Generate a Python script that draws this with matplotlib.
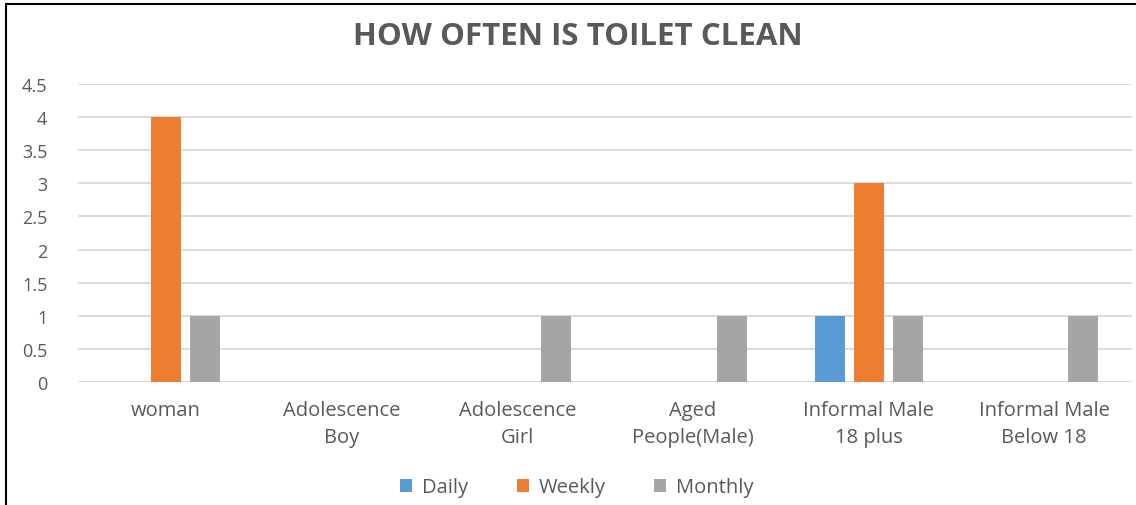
import matplotlib.pyplot as plt
import numpy as np
from matplotlib.lines import Line2D

categories = ['woman', 'Adolescence\nBoy', 'Adolescence\nGirl', 'Aged\nPeople(Male)',
              'Informal Male\n18 plus', 'Informal Male\nBelow 18']
daily = [0, 0, 0, 0, 1, 0]
weekly = [4, 0, 0, 0, 3, 0]
monthly = [1, 0, 1, 1, 1, 1]
yticks = [0, 0.5, 1, 1.5, 2, 2.5, 3, 3.5, 4, 4.5]

plt.rcParams['font.family'] = ['Open Sans', 'DejaVu Sans']
txt = '#595959'

fig = plt.figure(figsize=(11.36, 5.06), dpi=100)
ax = fig.add_axes([0.0687, 0.243, 0.9278, 0.589])

x = np.arange(len(categories))
w = 0.171
off = 0.222
ax.bar(x - off, daily, w, color='#5B9BD5', label='Daily')
ax.bar(x, weekly, w, color='#ED7D31', label='Weekly')
ax.bar(x + off, monthly, w, color='#A5A5A5', label='Monthly')

ax.set_xlim(-0.5, len(categories) - 0.5)
ax.set_ylim(0, 4.5)
ax.set_yticks(yticks)
ax.set_yticklabels([f'{t:g}' for t in yticks])
ax.set_xticks(x)
ax.set_xticklabels(categories, linespacing=1.45)
ax.grid(axis='y', color='#d9d9d9', linewidth=1.3)
ax.set_axisbelow(True)
for s in ax.spines.values():
    s.set_visible(False)
ax.tick_params(length=0, colors=txt)
ax.tick_params(axis='x', pad=13, labelsize=14.5)
ax.tick_params(axis='y', pad=22, labelsize=13)

fig.text(0.509, 0.926, 'HOW OFTEN IS TOILET CLEAN', ha='center', va='center',
         fontsize=22.5, fontweight='bold', color=txt)

fig.legend(loc='center', bbox_to_anchor=(0.508, 0.035), ncol=3, frameon=False,
           fontsize=14.5, labelcolor=txt, handlelength=0.6, handleheight=0.6,
           columnspacing=2.4, handletextpad=0.5)

fig.add_artist(Line2D([6/1136, 1], [1 - 5/506, 1 - 5/506], color='black', lw=1.5,
                      transform=fig.transFigure))
fig.add_artist(Line2D([6/1136, 6/1136], [0, 1 - 5/506], color='black', lw=1.5,
                      transform=fig.transFigure))

fig.savefig('out.png', dpi=100)
